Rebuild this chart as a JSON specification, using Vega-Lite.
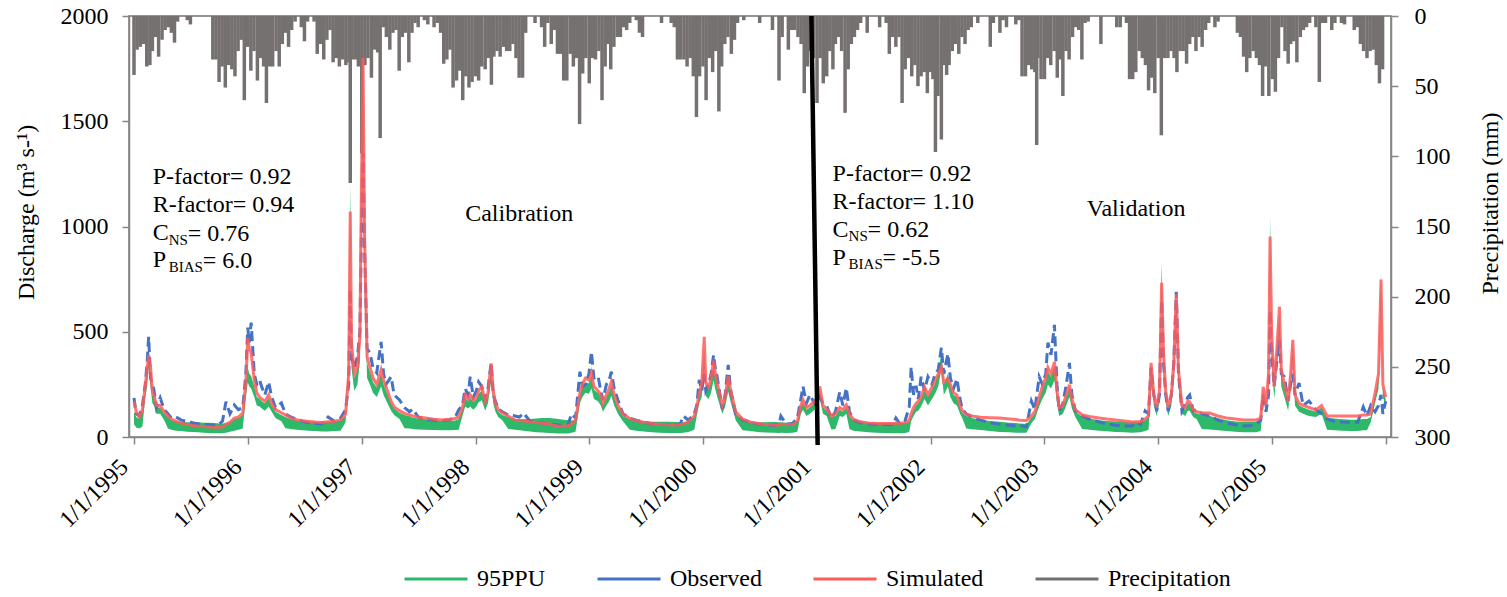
{
"$schema": "https://vega.github.io/schema/vega-lite/v6.json",
"width": 1262, "height": 421,
"autosize": {"type": "none"},
"padding": {"left": 129, "top": 16, "right": 116, "bottom": 160},
"background": "white",
"config": {
 "font": "'Liberation Serif', 'Times New Roman', Times, serif",
 "text": {"font": "'Liberation Serif', 'Times New Roman', Times, serif"},
 "view": {"stroke": "#767171", "strokeWidth": 1.5},
 "axis": {"labelFont": "'Liberation Serif', 'Times New Roman', Times, serif", "labelFontSize": 24, "titleFont": "'Liberation Serif', 'Times New Roman', Times, serif", "titleFontSize": 24, "titleFontWeight": "normal", "labelColor": "#000", "titleColor": "#000", "domainColor": "#868686", "tickColor": "#868686", "domainWidth": 1.5, "tickWidth": 1.5, "tickSize": 7, "grid": false, "labelOverlap": false, "labelBound": false, "labelFlush": false},
 "legend": {"labelFont": "'Liberation Serif', 'Times New Roman', Times, serif"}
},
"datasets": {
"q": [
{"d":"1995-01-01","o":186,"s":170,"l":60,"h":120},
{"d":"1995-01-08","o":110,"s":120,"l":45,"h":95},
{"d":"1995-01-18","o":100,"s":95,"l":40,"h":85},
{"d":"1995-01-28","o":150,"s":130,"l":50,"h":120},
{"d":"1995-02-06","o":250,"s":240,"l":185,"h":230},
{"d":"1995-02-12","o":350,"s":320,"l":240,"h":300},
{"d":"1995-02-17","o":476,"s":390,"l":330,"h":420},
{"d":"1995-02-23","o":280,"s":330,"l":240,"h":300},
{"d":"1995-03-01","o":250,"s":220,"l":160,"h":200},
{"d":"1995-03-06","o":224,"s":200,"l":150,"h":190},
{"d":"1995-03-14","o":140,"s":150,"l":110,"h":140},
{"d":"1995-03-26","o":186,"s":150,"l":110,"h":140},
{"d":"1995-04-08","o":130,"s":120,"l":80,"h":110},
{"d":"1995-04-20","o":110,"s":100,"l":40,"h":95},
{"d":"1995-05-01","o":90,"s":85,"l":35,"h":80},
{"d":"1995-05-15","o":95,"s":75,"l":30,"h":75},
{"d":"1995-06-02","o":80,"s":65,"l":28,"h":72},
{"d":"1995-06-20","o":75,"s":60,"l":25,"h":70},
{"d":"1995-07-08","o":68,"s":55,"l":24,"h":70},
{"d":"1995-07-25","o":62,"s":52,"l":22,"h":70},
{"d":"1995-08-12","o":60,"s":50,"l":20,"h":68},
{"d":"1995-08-30","o":58,"s":48,"l":19,"h":68},
{"d":"1995-09-15","o":57,"s":46,"l":18,"h":66},
{"d":"1995-10-01","o":62,"s":45,"l":18,"h":64},
{"d":"1995-10-12","o":75,"s":48,"l":18,"h":64},
{"d":"1995-10-23","o":167,"s":60,"l":20,"h":65},
{"d":"1995-11-05","o":110,"s":70,"l":25,"h":70},
{"d":"1995-11-19","o":152,"s":90,"l":30,"h":85},
{"d":"1995-12-02","o":130,"s":95,"l":35,"h":90},
{"d":"1995-12-16","o":140,"s":114,"l":40,"h":105},
{"d":"1995-12-26","o":300,"s":260,"l":190,"h":240},
{"d":"1996-01-01","o":520,"s":471,"l":260,"h":330},
{"d":"1996-01-06","o":450,"s":420,"l":240,"h":300},
{"d":"1996-01-12","o":543,"s":400,"l":230,"h":290},
{"d":"1996-01-22","o":300,"s":271,"l":190,"h":240},
{"d":"1996-01-30","o":250,"s":210,"l":150,"h":190},
{"d":"1996-02-08","o":271,"s":190,"l":145,"h":180},
{"d":"1996-02-15","o":238,"s":180,"l":135,"h":170},
{"d":"1996-02-25","o":200,"s":170,"l":125,"h":160},
{"d":"1996-03-08","o":262,"s":200,"l":145,"h":185},
{"d":"1996-03-18","o":190,"s":160,"l":120,"h":150},
{"d":"1996-03-30","o":140,"s":130,"l":90,"h":120},
{"d":"1996-04-18","o":162,"s":115,"l":75,"h":105},
{"d":"1996-05-01","o":110,"s":105,"l":42,"h":95},
{"d":"1996-05-18","o":95,"s":92,"l":38,"h":85},
{"d":"1996-06-05","o":85,"s":82,"l":35,"h":80},
{"d":"1996-06-25","o":75,"s":77,"l":32,"h":76},
{"d":"1996-07-15","o":68,"s":74,"l":30,"h":74},
{"d":"1996-08-05","o":64,"s":71,"l":28,"h":72},
{"d":"1996-08-25","o":62,"s":69,"l":26,"h":70},
{"d":"1996-09-15","o":95,"s":72,"l":26,"h":72},
{"d":"1996-10-05","o":75,"s":75,"l":28,"h":74},
{"d":"1996-10-25","o":90,"s":80,"l":30,"h":78},
{"d":"1996-11-10","o":130,"s":110,"l":70,"h":100},
{"d":"1996-11-20","o":250,"s":300,"l":300,"h":400},
{"d":"1996-11-25","o":700,"s":1071,"l":900,"h":1200},
{"d":"1996-11-29","o":380,"s":450,"l":330,"h":420},
{"d":"1996-12-08","o":330,"s":300,"l":220,"h":280},
{"d":"1996-12-18","o":380,"s":330,"l":250,"h":320},
{"d":"1996-12-26","o":500,"s":480,"l":360,"h":460},
{"d":"1996-12-31","o":1000,"s":1200,"l":900,"h":1150},
{"d":"1997-01-05","o":1350,"s":1800,"l":1300,"h":1700},
{"d":"1997-01-10","o":900,"s":950,"l":700,"h":900},
{"d":"1997-01-18","o":420,"s":380,"l":280,"h":350},
{"d":"1997-01-27","o":400,"s":333,"l":250,"h":310},
{"d":"1997-02-06","o":330,"s":280,"l":210,"h":260},
{"d":"1997-02-18","o":305,"s":250,"l":190,"h":235},
{"d":"1997-03-04","o":452,"s":319,"l":240,"h":300},
{"d":"1997-03-12","o":300,"s":270,"l":200,"h":250},
{"d":"1997-03-20","o":250,"s":238,"l":175,"h":220},
{"d":"1997-04-05","o":286,"s":170,"l":125,"h":160},
{"d":"1997-04-15","o":200,"s":143,"l":105,"h":135},
{"d":"1997-05-02","o":176,"s":125,"l":85,"h":115},
{"d":"1997-05-18","o":140,"s":112,"l":42,"h":105},
{"d":"1997-06-03","o":120,"s":105,"l":40,"h":98},
{"d":"1997-06-14","o":133,"s":100,"l":38,"h":92},
{"d":"1997-07-01","o":95,"s":95,"l":36,"h":88},
{"d":"1997-07-25","o":85,"s":90,"l":35,"h":84},
{"d":"1997-08-20","o":80,"s":84,"l":33,"h":78},
{"d":"1997-09-17","o":78,"s":81,"l":32,"h":76},
{"d":"1997-10-10","o":82,"s":84,"l":32,"h":76},
{"d":"1997-10-28","o":95,"s":88,"l":33,"h":78},
{"d":"1997-11-08","o":129,"s":95,"l":35,"h":85},
{"d":"1997-11-20","o":150,"s":140,"l":100,"h":130},
{"d":"1997-11-29","o":230,"s":200,"l":145,"h":185},
{"d":"1997-12-08","o":200,"s":180,"l":135,"h":170},
{"d":"1997-12-15","o":286,"s":200,"l":145,"h":185},
{"d":"1997-12-25","o":190,"s":175,"l":130,"h":165},
{"d":"1998-01-04","o":220,"s":190,"l":145,"h":180},
{"d":"1998-01-11","o":262,"s":220,"l":165,"h":205},
{"d":"1998-01-21","o":240,"s":238,"l":175,"h":220},
{"d":"1998-02-01","o":180,"s":170,"l":125,"h":160},
{"d":"1998-02-10","o":230,"s":210,"l":160,"h":200},
{"d":"1998-02-20","o":352,"s":350,"l":265,"h":330},
{"d":"1998-02-27","o":200,"s":220,"l":160,"h":200},
{"d":"1998-03-06","o":170,"s":160,"l":120,"h":150},
{"d":"1998-03-15","o":133,"s":130,"l":95,"h":120},
{"d":"1998-03-28","o":120,"s":115,"l":80,"h":105},
{"d":"1998-04-16","o":105,"s":100,"l":38,"h":95},
{"d":"1998-05-08","o":100,"s":81,"l":34,"h":85},
{"d":"1998-05-22","o":95,"s":78,"l":32,"h":84},
{"d":"1998-06-04","o":114,"s":76,"l":30,"h":84},
{"d":"1998-06-25","o":75,"s":72,"l":26,"h":86},
{"d":"1998-07-15","o":70,"s":69,"l":23,"h":88},
{"d":"1998-08-02","o":66,"s":67,"l":21,"h":90},
{"d":"1998-08-25","o":62,"s":62,"l":19,"h":90},
{"d":"1998-09-10","o":60,"s":56,"l":18,"h":88},
{"d":"1998-09-24","o":57,"s":50,"l":17,"h":85},
{"d":"1998-10-10","o":56,"s":52,"l":17,"h":82},
{"d":"1998-10-25","o":58,"s":53,"l":17,"h":80},
{"d":"1998-11-05","o":110,"s":62,"l":20,"h":78},
{"d":"1998-11-18","o":90,"s":80,"l":25,"h":80},
{"d":"1998-12-02","o":310,"s":209,"l":160,"h":200},
{"d":"1998-12-10","o":240,"s":250,"l":190,"h":235},
{"d":"1998-12-20","o":250,"s":280,"l":210,"h":260},
{"d":"1998-12-31","o":300,"s":270,"l":205,"h":255},
{"d":"1999-01-08","o":405,"s":305,"l":230,"h":290},
{"d":"1999-01-16","o":280,"s":240,"l":180,"h":225},
{"d":"1999-01-29","o":290,"s":220,"l":170,"h":210},
{"d":"1999-02-07","o":220,"s":200,"l":150,"h":190},
{"d":"1999-02-14","o":176,"s":160,"l":120,"h":150},
{"d":"1999-02-25","o":250,"s":200,"l":150,"h":190},
{"d":"1999-03-06","o":270,"s":230,"l":170,"h":215},
{"d":"1999-03-13","o":310,"s":262,"l":195,"h":245},
{"d":"1999-03-22","o":230,"s":200,"l":150,"h":190},
{"d":"1999-04-03","o":176,"s":150,"l":110,"h":140},
{"d":"1999-04-19","o":110,"s":110,"l":75,"h":100},
{"d":"1999-05-11","o":90,"s":88,"l":34,"h":84},
{"d":"1999-06-01","o":80,"s":78,"l":30,"h":78},
{"d":"1999-06-25","o":70,"s":70,"l":26,"h":74},
{"d":"1999-07-20","o":63,"s":64,"l":22,"h":73},
{"d":"1999-08-15","o":60,"s":60,"l":20,"h":73},
{"d":"1999-09-10","o":58,"s":58,"l":19,"h":72},
{"d":"1999-10-05","o":57,"s":57,"l":19,"h":71},
{"d":"1999-10-20","o":62,"s":58,"l":19,"h":70},
{"d":"1999-10-30","o":100,"s":62,"l":20,"h":70},
{"d":"1999-11-15","o":80,"s":72,"l":24,"h":72},
{"d":"1999-12-04","o":110,"s":100,"l":34,"h":95},
{"d":"1999-12-12","o":150,"s":140,"l":100,"h":130},
{"d":"1999-12-20","o":271,"s":209,"l":160,"h":200},
{"d":"1999-12-28","o":220,"s":250,"l":190,"h":235},
{"d":"2000-01-05","o":300,"s":476,"l":330,"h":420},
{"d":"2000-01-10","o":220,"s":260,"l":195,"h":245},
{"d":"2000-01-19","o":250,"s":238,"l":180,"h":225},
{"d":"2000-01-27","o":300,"s":280,"l":210,"h":265},
{"d":"2000-02-04","o":390,"s":362,"l":270,"h":340},
{"d":"2000-02-10","o":320,"s":300,"l":225,"h":280},
{"d":"2000-02-15","o":290,"s":260,"l":195,"h":245},
{"d":"2000-03-03","o":133,"s":150,"l":110,"h":140},
{"d":"2000-03-12","o":200,"s":190,"l":145,"h":180},
{"d":"2000-03-22","o":343,"s":290,"l":215,"h":270},
{"d":"2000-03-30","o":220,"s":220,"l":165,"h":205},
{"d":"2000-04-15","o":110,"s":120,"l":80,"h":110},
{"d":"2000-05-07","o":81,"s":85,"l":32,"h":80},
{"d":"2000-06-01","o":70,"s":72,"l":28,"h":72},
{"d":"2000-06-25","o":62,"s":64,"l":24,"h":70},
{"d":"2000-07-20","o":58,"s":59,"l":21,"h":70},
{"d":"2000-08-15","o":56,"s":57,"l":20,"h":71},
{"d":"2000-09-01","o":60,"s":56,"l":19,"h":70},
{"d":"2000-09-07","o":100,"s":62,"l":20,"h":70},
{"d":"2000-09-25","o":60,"s":58,"l":19,"h":68},
{"d":"2000-10-15","o":65,"s":60,"l":20,"h":66},
{"d":"2000-10-30","o":90,"s":75,"l":25,"h":75},
{"d":"2000-11-10","o":180,"s":150,"l":110,"h":140},
{"d":"2000-11-17","o":240,"s":176,"l":130,"h":165},
{"d":"2000-11-28","o":160,"s":140,"l":100,"h":130},
{"d":"2000-12-09","o":200,"s":150,"l":110,"h":140},
{"d":"2000-12-20","o":170,"s":165,"l":125,"h":155},
{"d":"2000-12-30","o":150,"s":180,"l":135,"h":170},
{"d":"2001-01-10","o":190,"s":240,"l":180,"h":225},
{"d":"2001-01-20","o":160,"s":150,"l":110,"h":140},
{"d":"2001-02-01","o":148,"s":133,"l":100,"h":125},
{"d":"2001-02-16","o":90,"s":100,"l":36,"h":95},
{"d":"2001-03-01","o":120,"s":110,"l":38,"h":100},
{"d":"2001-03-15","o":214,"s":140,"l":100,"h":130},
{"d":"2001-03-25","o":150,"s":130,"l":95,"h":120},
{"d":"2001-04-05","o":233,"s":152,"l":110,"h":140},
{"d":"2001-04-15","o":120,"s":110,"l":38,"h":100},
{"d":"2001-04-27","o":81,"s":85,"l":30,"h":80},
{"d":"2001-05-20","o":68,"s":72,"l":26,"h":72},
{"d":"2001-06-15","o":62,"s":67,"l":22,"h":68},
{"d":"2001-07-10","o":60,"s":65,"l":20,"h":66},
{"d":"2001-08-05","o":59,"s":64,"l":19,"h":66},
{"d":"2001-09-01","o":58,"s":64,"l":18,"h":66},
{"d":"2001-09-11","o":90,"s":66,"l":18,"h":67},
{"d":"2001-09-25","o":60,"s":65,"l":18,"h":67},
{"d":"2001-10-10","o":75,"s":68,"l":19,"h":66},
{"d":"2001-10-24","o":143,"s":80,"l":24,"h":72},
{"d":"2001-10-30","o":333,"s":110,"l":75,"h":100},
{"d":"2001-11-07","o":200,"s":140,"l":100,"h":130},
{"d":"2001-11-15","o":243,"s":160,"l":120,"h":150},
{"d":"2001-11-22","o":180,"s":170,"l":125,"h":160},
{"d":"2001-12-01","o":286,"s":190,"l":145,"h":180},
{"d":"2001-12-12","o":220,"s":238,"l":180,"h":225},
{"d":"2001-12-23","o":286,"s":200,"l":150,"h":190},
{"d":"2002-01-05","o":250,"s":238,"l":180,"h":225},
{"d":"2002-01-15","o":300,"s":270,"l":205,"h":255},
{"d":"2002-01-25","o":320,"s":300,"l":240,"h":300},
{"d":"2002-02-04","o":424,"s":333,"l":320,"h":400},
{"d":"2002-02-12","o":300,"s":260,"l":200,"h":250},
{"d":"2002-02-25","o":395,"s":276,"l":240,"h":300},
{"d":"2002-03-05","o":280,"s":250,"l":190,"h":240},
{"d":"2002-03-15","o":230,"s":210,"l":160,"h":200},
{"d":"2002-03-26","o":276,"s":200,"l":150,"h":190},
{"d":"2002-04-05","o":180,"s":150,"l":110,"h":140},
{"d":"2002-04-12","o":133,"s":125,"l":90,"h":115},
{"d":"2002-04-25","o":110,"s":108,"l":40,"h":100},
{"d":"2002-05-13","o":95,"s":100,"l":37,"h":90},
{"d":"2002-06-10","o":80,"s":94,"l":33,"h":82},
{"d":"2002-07-10","o":68,"s":92,"l":28,"h":76},
{"d":"2002-08-10","o":60,"s":90,"l":24,"h":72},
{"d":"2002-09-10","o":56,"s":86,"l":22,"h":68},
{"d":"2002-10-01","o":52,"s":83,"l":20,"h":66},
{"d":"2002-10-14","o":55,"s":80,"l":20,"h":64},
{"d":"2002-11-04","o":48,"s":78,"l":20,"h":62},
{"d":"2002-11-20","o":171,"s":100,"l":65,"h":92},
{"d":"2002-12-01","o":130,"s":120,"l":85,"h":110},
{"d":"2002-12-15","o":286,"s":190,"l":145,"h":180},
{"d":"2002-12-25","o":250,"s":240,"l":180,"h":225},
{"d":"2003-01-05","o":300,"s":280,"l":210,"h":265},
{"d":"2003-01-12","o":448,"s":330,"l":250,"h":310},
{"d":"2003-01-22","o":390,"s":300,"l":230,"h":285},
{"d":"2003-02-02","o":533,"s":357,"l":270,"h":340},
{"d":"2003-02-10","o":250,"s":220,"l":165,"h":205},
{"d":"2003-02-17","o":124,"s":140,"l":100,"h":130},
{"d":"2003-03-01","o":160,"s":150,"l":110,"h":140},
{"d":"2003-03-12","o":250,"s":200,"l":150,"h":190},
{"d":"2003-03-22","o":352,"s":248,"l":190,"h":235},
{"d":"2003-03-30","o":200,"s":180,"l":135,"h":170},
{"d":"2003-04-10","o":124,"s":130,"l":95,"h":120},
{"d":"2003-05-02","o":100,"s":105,"l":38,"h":96},
{"d":"2003-05-25","o":85,"s":97,"l":34,"h":88},
{"d":"2003-06-25","o":72,"s":90,"l":30,"h":80},
{"d":"2003-07-20","o":62,"s":85,"l":27,"h":76},
{"d":"2003-08-17","o":56,"s":81,"l":24,"h":74},
{"d":"2003-09-15","o":52,"s":76,"l":22,"h":72},
{"d":"2003-10-10","o":52,"s":71,"l":20,"h":72},
{"d":"2003-10-21","o":70,"s":72,"l":21,"h":72},
{"d":"2003-11-05","o":60,"s":72,"l":22,"h":71},
{"d":"2003-11-20","o":124,"s":85,"l":28,"h":80},
{"d":"2003-12-01","o":110,"s":100,"l":34,"h":95},
{"d":"2003-12-09","o":330,"s":352,"l":265,"h":330},
{"d":"2003-12-18","o":200,"s":200,"l":150,"h":190},
{"d":"2003-12-27","o":124,"s":140,"l":100,"h":130},
{"d":"2004-01-05","o":200,"s":220,"l":165,"h":210},
{"d":"2004-01-12","o":650,"s":733,"l":650,"h":833},
{"d":"2004-01-18","o":350,"s":400,"l":300,"h":380},
{"d":"2004-01-25","o":200,"s":220,"l":165,"h":210},
{"d":"2004-02-02","o":124,"s":140,"l":100,"h":130},
{"d":"2004-02-12","o":200,"s":200,"l":150,"h":190},
{"d":"2004-02-20","o":350,"s":350,"l":265,"h":330},
{"d":"2004-02-28","o":690,"s":680,"l":530,"h":660},
{"d":"2004-03-06","o":300,"s":320,"l":240,"h":300},
{"d":"2004-03-17","o":124,"s":150,"l":110,"h":140},
{"d":"2004-03-28","o":160,"s":140,"l":100,"h":130},
{"d":"2004-04-05","o":190,"s":171,"l":125,"h":160},
{"d":"2004-04-11","o":200,"s":167,"l":125,"h":158},
{"d":"2004-04-22","o":124,"s":130,"l":95,"h":120},
{"d":"2004-05-03","o":129,"s":120,"l":85,"h":112},
{"d":"2004-05-20","o":110,"s":115,"l":38,"h":105},
{"d":"2004-06-14","o":100,"s":114,"l":36,"h":100},
{"d":"2004-07-10","o":80,"s":100,"l":32,"h":90},
{"d":"2004-08-07","o":67,"s":90,"l":28,"h":80},
{"d":"2004-09-05","o":58,"s":85,"l":25,"h":74},
{"d":"2004-09-30","o":52,"s":81,"l":22,"h":72},
{"d":"2004-10-25","o":55,"s":81,"l":22,"h":72},
{"d":"2004-11-10","o":60,"s":81,"l":23,"h":72},
{"d":"2004-11-25","o":80,"s":90,"l":28,"h":80},
{"d":"2004-12-03","o":200,"s":238,"l":180,"h":225},
{"d":"2004-12-12","o":120,"s":150,"l":110,"h":140},
{"d":"2004-12-20","o":200,"s":300,"l":230,"h":290},
{"d":"2004-12-25","o":600,"s":952,"l":800,"h":1043},
{"d":"2004-12-30","o":400,"s":500,"l":380,"h":480},
{"d":"2005-01-07","o":240,"s":240,"l":180,"h":228},
{"d":"2005-01-15","o":350,"s":400,"l":310,"h":390},
{"d":"2005-01-24","o":462,"s":619,"l":480,"h":600},
{"d":"2005-01-30","o":300,"s":320,"l":240,"h":300},
{"d":"2005-02-09","o":286,"s":250,"l":190,"h":236},
{"d":"2005-02-21","o":171,"s":171,"l":125,"h":160},
{"d":"2005-03-01","o":250,"s":300,"l":230,"h":290},
{"d":"2005-03-08","o":300,"s":462,"l":360,"h":450},
{"d":"2005-03-15","o":200,"s":200,"l":150,"h":190},
{"d":"2005-03-28","o":257,"s":160,"l":120,"h":150},
{"d":"2005-04-10","o":150,"s":150,"l":110,"h":140},
{"d":"2005-04-29","o":171,"s":140,"l":100,"h":130},
{"d":"2005-05-21","o":129,"s":129,"l":95,"h":120},
{"d":"2005-06-08","o":110,"s":150,"l":110,"h":140},
{"d":"2005-06-26","o":86,"s":100,"l":34,"h":90},
{"d":"2005-07-20","o":75,"s":100,"l":32,"h":88},
{"d":"2005-08-14","o":71,"s":100,"l":30,"h":84},
{"d":"2005-09-10","o":70,"s":100,"l":28,"h":82},
{"d":"2005-10-02","o":70,"s":100,"l":28,"h":82},
{"d":"2005-10-20","o":143,"s":105,"l":32,"h":86},
{"d":"2005-11-01","o":100,"s":104,"l":32,"h":86},
{"d":"2005-11-13","o":150,"s":110,"l":70,"h":95},
{"d":"2005-11-27","o":120,"s":209,"l":160,"h":200},
{"d":"2005-12-08","o":150,"s":300,"l":230,"h":290},
{"d":"2005-12-16","o":200,"s":748,"l":620,"h":780},
{"d":"2005-12-22","o":110,"s":250,"l":190,"h":240},
{"d":"2005-12-31","o":170,"s":190,"l":145,"h":180}
],
"p": [
{"d":"1995-01-01","p":42},{"d":"1995-01-11","p":24},{"d":"1995-01-21","p":22},{"d":"1995-02-01","p":20},{"d":"1995-02-11","p":36},{"d":"1995-02-21","p":35},{"d":"1995-03-01","p":25},{"d":"1995-03-11","p":15},{"d":"1995-03-21","p":29},{"d":"1995-04-01","p":17},{"d":"1995-04-11","p":10},{"d":"1995-04-21","p":8},{"d":"1995-05-01","p":12},{"d":"1995-05-11","p":19},{"d":"1995-05-21","p":4},{"d":"1995-06-21","p":3},{"d":"1995-07-01","p":6},{"d":"1995-09-11","p":31},{"d":"1995-09-21","p":31},{"d":"1995-10-01","p":47},{"d":"1995-10-11","p":36},{"d":"1995-10-21","p":51},{"d":"1995-11-01","p":35},{"d":"1995-11-11","p":38},{"d":"1995-11-21","p":43},{"d":"1995-12-01","p":25},{"d":"1995-12-11","p":17},{"d":"1995-12-21","p":60},
{"d":"1996-01-01","p":22},{"d":"1996-01-11","p":39},{"d":"1996-01-21","p":25},{"d":"1996-02-01","p":46},{"d":"1996-02-11","p":30},{"d":"1996-02-21","p":36},{"d":"1996-03-01","p":62},{"d":"1996-03-11","p":36},{"d":"1996-03-21","p":36},{"d":"1996-04-01","p":25},{"d":"1996-04-11","p":36},{"d":"1996-04-21","p":20},{"d":"1996-05-01","p":12},{"d":"1996-05-11","p":22},{"d":"1996-05-21","p":10},{"d":"1996-06-01","p":4},{"d":"1996-06-21","p":8},{"d":"1996-07-01","p":18},{"d":"1996-07-11","p":4},{"d":"1996-08-01","p":4},{"d":"1996-08-11","p":27},{"d":"1996-08-21","p":20},{"d":"1996-09-01","p":31},{"d":"1996-09-11","p":17},{"d":"1996-09-21","p":10},{"d":"1996-10-01","p":33},{"d":"1996-10-11","p":30},{"d":"1996-10-21","p":36},{"d":"1996-11-01","p":31},{"d":"1996-11-11","p":35},{"d":"1996-11-21","p":33},{"d":"1996-11-25","p":119},{"d":"1996-12-01","p":31},{"d":"1996-12-11","p":31},{"d":"1996-12-21","p":36},
{"d":"1997-01-01","p":98},{"d":"1997-01-11","p":35},{"d":"1997-01-21","p":30},{"d":"1997-02-01","p":44},{"d":"1997-02-11","p":24},{"d":"1997-02-21","p":26},{"d":"1997-03-01","p":87},{"d":"1997-03-11","p":8},{"d":"1997-03-21","p":15},{"d":"1997-04-01","p":24},{"d":"1997-04-11","p":12},{"d":"1997-04-21","p":10},{"d":"1997-05-01","p":39},{"d":"1997-05-11","p":15},{"d":"1997-05-21","p":12},{"d":"1997-06-01","p":33},{"d":"1997-06-11","p":12},{"d":"1997-06-21","p":5},{"d":"1997-07-01","p":8},{"d":"1997-07-21","p":3},{"d":"1997-08-01","p":6},{"d":"1997-08-21","p":8},{"d":"1997-09-01","p":5},{"d":"1997-09-11","p":12},{"d":"1997-09-21","p":34},{"d":"1997-10-01","p":31},{"d":"1997-10-11","p":24},{"d":"1997-10-21","p":51},{"d":"1997-11-01","p":46},{"d":"1997-11-11","p":39},{"d":"1997-11-21","p":60},{"d":"1997-12-01","p":43},{"d":"1997-12-11","p":51},{"d":"1997-12-21","p":47},
{"d":"1998-01-01","p":43},{"d":"1998-01-11","p":46},{"d":"1998-01-21","p":36},{"d":"1998-02-01","p":38},{"d":"1998-02-11","p":30},{"d":"1998-02-21","p":49},{"d":"1998-03-01","p":29},{"d":"1998-03-11","p":25},{"d":"1998-03-21","p":29},{"d":"1998-04-01","p":22},{"d":"1998-04-11","p":25},{"d":"1998-04-21","p":25},{"d":"1998-05-01","p":20},{"d":"1998-05-11","p":30},{"d":"1998-05-21","p":44},{"d":"1998-06-01","p":44},{"d":"1998-06-11","p":12},{"d":"1998-07-11","p":5},{"d":"1998-08-01","p":8},{"d":"1998-08-11","p":22},{"d":"1998-08-21","p":5},{"d":"1998-09-01","p":20},{"d":"1998-09-11","p":10},{"d":"1998-09-21","p":27},{"d":"1998-10-01","p":27},{"d":"1998-10-11","p":46},{"d":"1998-10-21","p":46},{"d":"1998-11-01","p":27},{"d":"1998-11-11","p":36},{"d":"1998-11-21","p":30},{"d":"1998-12-01","p":77},{"d":"1998-12-11","p":41},{"d":"1998-12-21","p":30},
{"d":"1999-01-01","p":48},{"d":"1999-01-11","p":30},{"d":"1999-01-21","p":31},{"d":"1999-02-01","p":25},{"d":"1999-02-11","p":60},{"d":"1999-02-21","p":36},{"d":"1999-03-01","p":20},{"d":"1999-03-11","p":38},{"d":"1999-03-21","p":22},{"d":"1999-04-01","p":15},{"d":"1999-04-11","p":15},{"d":"1999-04-21","p":8},{"d":"1999-05-01","p":10},{"d":"1999-05-11","p":5},{"d":"1999-06-01","p":3},{"d":"1999-06-11","p":12},{"d":"1999-06-21","p":15},{"d":"1999-08-21","p":5},{"d":"1999-09-21","p":5},{"d":"1999-10-01","p":8},{"d":"1999-10-11","p":31},{"d":"1999-10-21","p":31},{"d":"1999-11-01","p":31},{"d":"1999-11-11","p":36},{"d":"1999-11-21","p":30},{"d":"1999-12-01","p":43},{"d":"1999-12-11","p":72},{"d":"1999-12-21","p":43},
{"d":"2000-01-01","p":36},{"d":"2000-01-11","p":60},{"d":"2000-01-21","p":30},{"d":"2000-02-01","p":40},{"d":"2000-02-11","p":25},{"d":"2000-02-21","p":68},{"d":"2000-03-01","p":36},{"d":"2000-03-11","p":20},{"d":"2000-03-21","p":15},{"d":"2000-04-01","p":27},{"d":"2000-04-11","p":17},{"d":"2000-04-21","p":5},{"d":"2000-05-11","p":3},{"d":"2000-07-01","p":5},{"d":"2000-08-11","p":10},{"d":"2000-09-01","p":46},{"d":"2000-09-11","p":15},{"d":"2000-10-01","p":24},{"d":"2000-10-11","p":10},{"d":"2000-10-21","p":10},{"d":"2000-11-01","p":15},{"d":"2000-11-11","p":20},{"d":"2000-11-21","p":55},{"d":"2000-12-01","p":36},{"d":"2000-12-11","p":25},{"d":"2000-12-21","p":30},
{"d":"2001-01-01","p":62},{"d":"2001-01-11","p":30},{"d":"2001-01-21","p":48},{"d":"2001-02-01","p":43},{"d":"2001-02-11","p":25},{"d":"2001-02-21","p":38},{"d":"2001-03-01","p":20},{"d":"2001-03-11","p":15},{"d":"2001-03-21","p":25},{"d":"2001-04-01","p":69},{"d":"2001-04-11","p":38},{"d":"2001-04-21","p":20},{"d":"2001-05-01","p":15},{"d":"2001-05-11","p":10},{"d":"2001-05-21","p":5},{"d":"2001-06-11","p":12},{"d":"2001-07-21","p":8},{"d":"2001-08-11","p":5},{"d":"2001-08-21","p":27},{"d":"2001-09-01","p":15},{"d":"2001-09-11","p":22},{"d":"2001-09-21","p":15},{"d":"2001-10-01","p":62},{"d":"2001-10-11","p":38},{"d":"2001-10-21","p":30},{"d":"2001-11-01","p":43},{"d":"2001-11-11","p":35},{"d":"2001-11-21","p":50},{"d":"2001-12-01","p":43},{"d":"2001-12-11","p":40},{"d":"2001-12-21","p":55},
{"d":"2002-01-01","p":40},{"d":"2002-01-08","p":45},{"d":"2002-01-16","p":97},{"d":"2002-01-24","p":57},{"d":"2002-02-04","p":88},{"d":"2002-02-11","p":35},{"d":"2002-02-21","p":42},{"d":"2002-03-01","p":35},{"d":"2002-03-11","p":25},{"d":"2002-03-21","p":20},{"d":"2002-04-01","p":27},{"d":"2002-04-11","p":15},{"d":"2002-04-21","p":20},{"d":"2002-05-01","p":10},{"d":"2002-05-11","p":8},{"d":"2002-06-01","p":5},{"d":"2002-07-11","p":22},{"d":"2002-07-21","p":5},{"d":"2002-08-11","p":12},{"d":"2002-08-21","p":3},{"d":"2002-09-01","p":8},{"d":"2002-10-01","p":6},{"d":"2002-10-11","p":3},{"d":"2002-10-21","p":43},{"d":"2002-11-01","p":43},{"d":"2002-11-11","p":35},{"d":"2002-11-21","p":38},{"d":"2002-12-01","p":40},{"d":"2002-12-07","p":92},{"d":"2002-12-11","p":30},{"d":"2002-12-21","p":45},
{"d":"2003-01-01","p":45},{"d":"2003-01-11","p":30},{"d":"2003-01-21","p":35},{"d":"2003-02-01","p":25},{"d":"2003-02-11","p":44},{"d":"2003-02-21","p":31},{"d":"2003-03-01","p":57},{"d":"2003-03-11","p":25},{"d":"2003-03-21","p":31},{"d":"2003-04-01","p":15},{"d":"2003-04-11","p":8},{"d":"2003-04-21","p":10},{"d":"2003-05-01","p":31},{"d":"2003-05-11","p":5},{"d":"2003-05-21","p":4},{"d":"2003-07-01","p":20},{"d":"2003-08-21","p":8},{"d":"2003-09-01","p":8},{"d":"2003-09-21","p":5},{"d":"2003-10-01","p":45},{"d":"2003-10-11","p":45},{"d":"2003-10-21","p":40},{"d":"2003-11-01","p":25},{"d":"2003-11-11","p":30},{"d":"2003-11-21","p":35},{"d":"2003-12-01","p":53},{"d":"2003-12-11","p":44},{"d":"2003-12-21","p":55},
{"d":"2004-01-01","p":30},{"d":"2004-01-11","p":85},{"d":"2004-01-21","p":30},{"d":"2004-02-01","p":30},{"d":"2004-02-11","p":25},{"d":"2004-02-21","p":30},{"d":"2004-03-01","p":40},{"d":"2004-03-11","p":25},{"d":"2004-03-21","p":25},{"d":"2004-04-01","p":34},{"d":"2004-04-11","p":20},{"d":"2004-04-21","p":15},{"d":"2004-05-01","p":25},{"d":"2004-05-11","p":15},{"d":"2004-05-21","p":22},{"d":"2004-06-01","p":10},{"d":"2004-06-11","p":5},{"d":"2004-07-01","p":8},{"d":"2004-07-11","p":4},{"d":"2004-09-11","p":12},{"d":"2004-09-21","p":15},{"d":"2004-10-01","p":29},{"d":"2004-10-11","p":40},{"d":"2004-10-21","p":30},{"d":"2004-11-01","p":25},{"d":"2004-11-11","p":30},{"d":"2004-11-21","p":35},{"d":"2004-12-01","p":57},{"d":"2004-12-11","p":36},{"d":"2004-12-21","p":57},
{"d":"2005-01-01","p":45},{"d":"2005-01-11","p":54},{"d":"2005-01-21","p":30},{"d":"2005-02-01","p":8},{"d":"2005-02-11","p":25},{"d":"2005-02-21","p":34},{"d":"2005-03-01","p":20},{"d":"2005-03-11","p":18},{"d":"2005-03-21","p":33},{"d":"2005-04-01","p":15},{"d":"2005-04-11","p":10},{"d":"2005-04-21","p":8},{"d":"2005-05-01","p":5},{"d":"2005-05-21","p":8},{"d":"2005-06-01","p":47},{"d":"2005-06-11","p":5},{"d":"2005-06-21","p":5},{"d":"2005-07-11","p":10},{"d":"2005-07-21","p":5},{"d":"2005-08-11","p":5},{"d":"2005-08-21","p":6},{"d":"2005-09-21","p":10},{"d":"2005-10-01","p":8},{"d":"2005-10-11","p":20},{"d":"2005-10-21","p":25},{"d":"2005-11-01","p":30},{"d":"2005-11-11","p":25},{"d":"2005-11-21","p":24},{"d":"2005-12-01","p":35},{"d":"2005-12-11","p":48},{"d":"2005-12-21","p":38}
]
},
"layer": [
 {
  "data": {"name": "p"},
  "mark": {"type": "bar", "size": 3.5},
  "encoding": {
   "x": {"field": "d", "type": "temporal"},
   "y": {"field": "p", "type": "quantitative", "scale": {"domain": [0, 300], "reverse": true, "nice": false},
     "axis": {"orient": "right", "title": "Precipitation (mm)", "values": [0, 50, 100, 150, 200, 250, 300], "labelPadding": 16,
       "titleAngle": -90, "titleX": 106, "titleY": 187, "titleAlign": "center", "titleBaseline": "alphabetic"}},
   "color": {"datum": "Precipitation"}
  }
 },
 {
  "data": {"name": "q"},
  "layer": [
   {
    "mark": {"type": "area", "opacity": 1},
    "encoding": {
     "x": {"field": "d", "type": "temporal",
       "scale": {"domain": [{"year": 1995, "month": 1, "date": 1}, {"year": 2006, "month": 1, "date": 1}]},
       "axis": {"title": null, "format": "%-m/%-d/%Y", "labelAngle": -45, "labelBaseline": "middle", "labelAlign": "right", "labelPadding": 19, "labelOffset": -10,
         "values": [{"year":1995,"month":1,"date":1},{"year":1996,"month":1,"date":1},{"year":1997,"month":1,"date":1},{"year":1998,"month":1,"date":1},{"year":1999,"month":1,"date":1},{"year":2000,"month":1,"date":1},{"year":2001,"month":1,"date":1},{"year":2002,"month":1,"date":1},{"year":2003,"month":1,"date":1},{"year":2004,"month":1,"date":1},{"year":2005,"month":1,"date":1},{"year":2006,"month":1,"date":1}],
         "labelExpr": "year(datum.value) >= 2006 ? '' : datum.label"}},
     "y": {"field": "l", "type": "quantitative", "scale": {"domain": [0, 2000], "nice": false},
       "axis": {"title": "Discharge (m³ s-¹)", "format": "d", "values": [0, 500, 1000, 1500, 2000], "labelPadding": 14,
         "titleAngle": -90, "titleX": -96, "titleY": 196, "titleAlign": "center", "titleBaseline": "alphabetic"}},
     "y2": {"field": "h"},
     "color": {"datum": "95PPU",
       "scale": {"domain": ["95PPU", "Observed", "Simulated", "Precipitation"], "range": ["#2EB86A", "#4472C4", "#FF5B5B", "#767171"]},
       "legend": {"title": null, "orient": "none", "legendX": 274, "legendY": 530, "direction": "horizontal",
         "symbolType": "stroke", "symbolSize": 3969, "symbolStrokeWidth": 3, "labelFontSize": 24,
         "labelColor": "#000", "labelOffset": 8, "columnPadding": 45, "labelLimit": 300}}
    }
   },
   {
    "mark": {"type": "line", "strokeWidth": 3, "strokeDash": [10, 5]},
    "encoding": {
     "x": {"field": "d", "type": "temporal"},
     "y": {"field": "o", "type": "quantitative"},
     "color": {"datum": "Observed"}
    }
   },
   {
    "mark": {"type": "line", "strokeWidth": 3, "opacity": 0.85},
    "encoding": {
     "x": {"field": "d", "type": "temporal"},
     "y": {"field": "s", "type": "quantitative"},
     "color": {"datum": "Simulated"}
    }
   },
   {
    "data": {"values": [{}]},
    "mark": {"type": "rule", "color": "black", "strokeWidth": 4.5},
    "encoding": {
     "x": {"datum": {"year": 2000, "month": 12, "date": 14}, "type": "temporal"},
     "x2": {"datum": {"year": 2001, "month": 1, "date": 3}},
     "y": {"datum": 2000, "type": "quantitative"},
     "y2": {"datum": -38}
    }
   },
   {
    "data": {"values": [{}]},
    "mark": {"type": "text", "align": "left", "baseline": "alphabetic", "fontSize": 24, "color": "black", "lineHeight": 27.7},
    "encoding": {
     "x": {"datum": {"year": 1995, "month": 3, "date": 2}, "type": "temporal"},
     "y": {"datum": 1200, "type": "quantitative"},
     "text": {"value": ["P-factor= 0.92", "R-factor= 0.94", "C", "P"]}
    }
   },
   {
    "data": {"values": [{}]},
    "mark": {"type": "text", "align": "left", "baseline": "alphabetic", "fontSize": 15, "color": "black", "lineHeight": 27.7, "dx": 16, "dy": 4},
    "encoding": {
     "x": {"datum": {"year": 1995, "month": 3, "date": 2}, "type": "temporal"},
     "y": {"datum": 933, "type": "quantitative"},
     "text": {"value": ["NS", "BIAS"]}
    }
   },
   {
    "data": {"values": [{}]},
    "mark": {"type": "text", "align": "left", "baseline": "alphabetic", "fontSize": 24, "color": "black", "dx": 35},
    "encoding": {
     "x": {"datum": {"year": 1995, "month": 3, "date": 2}, "type": "temporal"},
     "y": {"datum": 933, "type": "quantitative"},
     "text": {"value": "= 0.76"}
    }
   },
   {
    "data": {"values": [{}]},
    "mark": {"type": "text", "align": "left", "baseline": "alphabetic", "fontSize": 24, "color": "black", "dx": 50},
    "encoding": {
     "x": {"datum": {"year": 1995, "month": 3, "date": 2}, "type": "temporal"},
     "y": {"datum": 805, "type": "quantitative"},
     "text": {"value": "= 6.0"}
    }
   },
   {
    "data": {"values": [{}]},
    "mark": {"type": "text", "align": "left", "baseline": "alphabetic", "fontSize": 24, "color": "black", "lineHeight": 27.7},
    "encoding": {
     "x": {"datum": {"year": 2001, "month": 2, "date": 20}, "type": "temporal"},
     "y": {"datum": 1214, "type": "quantitative"},
     "text": {"value": ["P-factor= 0.92", "R-factor= 1.10", "C", "P"]}
    }
   },
   {
    "data": {"values": [{}]},
    "mark": {"type": "text", "align": "left", "baseline": "alphabetic", "fontSize": 15, "color": "black", "lineHeight": 27.7, "dx": 16, "dy": 4},
    "encoding": {
     "x": {"datum": {"year": 2001, "month": 2, "date": 20}, "type": "temporal"},
     "y": {"datum": 948, "type": "quantitative"},
     "text": {"value": ["NS", "BIAS"]}
    }
   },
   {
    "data": {"values": [{}]},
    "mark": {"type": "text", "align": "left", "baseline": "alphabetic", "fontSize": 24, "color": "black", "dx": 35},
    "encoding": {
     "x": {"datum": {"year": 2001, "month": 2, "date": 20}, "type": "temporal"},
     "y": {"datum": 948, "type": "quantitative"},
     "text": {"value": "= 0.62"}
    }
   },
   {
    "data": {"values": [{}]},
    "mark": {"type": "text", "align": "left", "baseline": "alphabetic", "fontSize": 24, "color": "black", "dx": 50},
    "encoding": {
     "x": {"datum": {"year": 2001, "month": 2, "date": 20}, "type": "temporal"},
     "y": {"datum": 819, "type": "quantitative"},
     "text": {"value": "= -5.5"}
    }
   },
   {
    "data": {"values": [{}]},
    "mark": {"type": "text", "align": "center", "baseline": "alphabetic", "fontSize": 24, "color": "black"},
    "encoding": {
     "x": {"datum": {"year": 1998, "month": 5, "date": 21}, "type": "temporal"},
     "y": {"datum": 1024, "type": "quantitative"},
     "text": {"value": "Calibration"}
    }
   },
   {
    "data": {"values": [{}]},
    "mark": {"type": "text", "align": "center", "baseline": "alphabetic", "fontSize": 24, "color": "black"},
    "encoding": {
     "x": {"datum": {"year": 2003, "month": 10, "date": 22}, "type": "temporal"},
     "y": {"datum": 1052, "type": "quantitative"},
     "text": {"value": "Validation"}
    }
   }
  ]
 }
],
"resolve": {"scale": {"y": "independent"}}
}
